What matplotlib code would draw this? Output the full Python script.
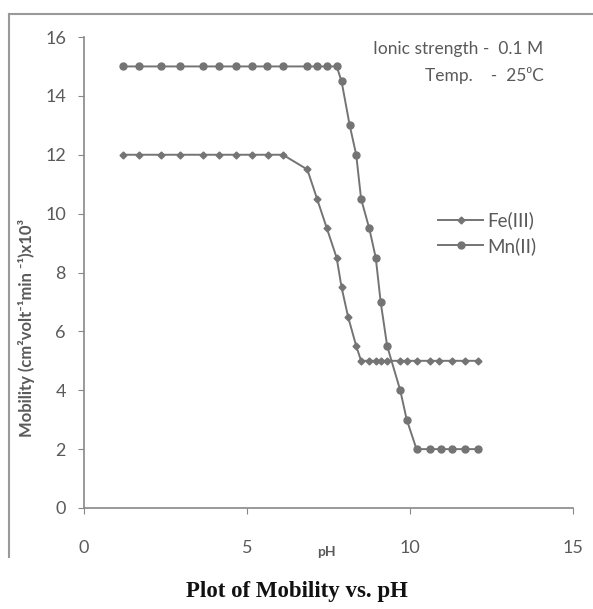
import matplotlib
matplotlib.use("Agg")
import matplotlib.pyplot as plt
from matplotlib.lines import Line2D

plt.rcParams['font.family'] = ['Lato', 'DejaVu Sans']

# pH values and mobility (x10^3)
ph_fe = [1.2, 1.7, 2.35, 2.95, 3.65, 4.15, 4.65, 5.15, 5.65, 6.1,
         6.85, 7.15, 7.45, 7.75, 7.9, 8.1, 8.35, 8.5, 8.75, 8.95,
         9.1, 9.3, 9.7, 9.9, 10.2, 10.6, 10.9, 11.3, 11.7, 12.1]
mob_fe = [12, 12, 12, 12, 12, 12, 12, 12, 12, 12,
          11.5, 10.5, 9.5, 8.5, 7.5, 6.5, 5.5, 5, 5, 5,
          5, 5, 5, 5, 5, 5, 5, 5, 5, 5]

ph_mn = [1.2, 1.7, 2.35, 2.95, 3.65, 4.15, 4.65, 5.15, 5.6, 6.1,
         6.85, 7.15, 7.45, 7.75, 7.9, 8.15, 8.35, 8.5, 8.75, 8.95,
         9.1, 9.3, 9.7, 9.9, 10.2, 10.6, 10.95, 11.3, 11.7, 12.1]
mob_mn = [15, 15, 15, 15, 15, 15, 15, 15, 15, 15,
          15, 15, 15, 15, 14.5, 13, 12, 10.5, 9.5, 8.5,
          7, 5.5, 4, 3, 2, 2, 2, 2, 2, 2]

x_ticks = [0, 5, 10, 15]
y_ticks = [0, 2, 4, 6, 8, 10, 12, 14, 16]

W, H = 593, 609
gray = '#747474'
txt = '#5a5a5a'

fig = plt.figure(figsize=(W / 100, H / 100), dpi=100)
ax = fig.add_axes([84 / W, 1 - 508 / H, (573 - 84) / W, (508 - 37) / H])

ax.plot(ph_fe, mob_fe, color=gray, lw=1.4, marker='D', ms=3.5, label='Fe(III)')
ax.plot(ph_mn, mob_mn, color=gray, lw=1.4, marker='o', ms=5, label='Mn(II)')

ax.set_xlim(0, 15)
ax.set_ylim(0, 16)
ax.set_xticks(x_ticks)
ax.set_yticks(y_ticks)
ax.spines['top'].set_visible(False)
ax.spines['right'].set_visible(False)
for s in ['left', 'bottom']:
    ax.spines[s].set_color('#888888')
    ax.spines[s].set_linewidth(1.2)
ax.tick_params(axis='both', colors='#888888', labelcolor=txt, labelsize=13, length=4)
ax.tick_params(axis='x', pad=19)
ax.tick_params(axis='y', pad=9)

ax.text(-1.75, 6.1, 'Mobility (cm²volt⁻¹min ⁻¹)x10³', rotation=90,
        ha='center', va='center', fontsize=12, fontweight='bold', color=txt)
ax.text(7.45, -1.5, 'pH', ha='center', va='center', fontsize=10,
        fontweight='bold', color=txt)

ax.text(14.1, 15.6, 'Ionic strength -  0.1 M', ha='right', va='center',
        fontsize=12.5, color=txt)
ax.text(14.1, 14.7, 'Temp.    -  25⁰C', ha='right', va='center',
        fontsize=12.5, color=txt)

ax.legend(loc='upper left', bbox_to_anchor=(0.69, 0.665), frameon=False,
          fontsize=13.5, labelcolor=txt, handlelength=2.4, handletextpad=0.2,
          labelspacing=0.4)

# outer chart frame (left and top edges)
fig.add_artist(Line2D([9 / W, 9 / W], [1 - 557 / H, 1 - 14 / H], color='#999999', lw=1.5))
fig.add_artist(Line2D([9 / W, 592 / W], [1 - 14 / H, 1 - 14 / H], color='#999999', lw=1.5))

fig.text(0.5, 1 - 591 / H, 'Plot of Mobility vs. pH', ha='center', va='center',
         family='Liberation Serif', fontweight='bold', fontsize=16.5, color='#111111')

fig.savefig('out.png', dpi=100, facecolor='white')
